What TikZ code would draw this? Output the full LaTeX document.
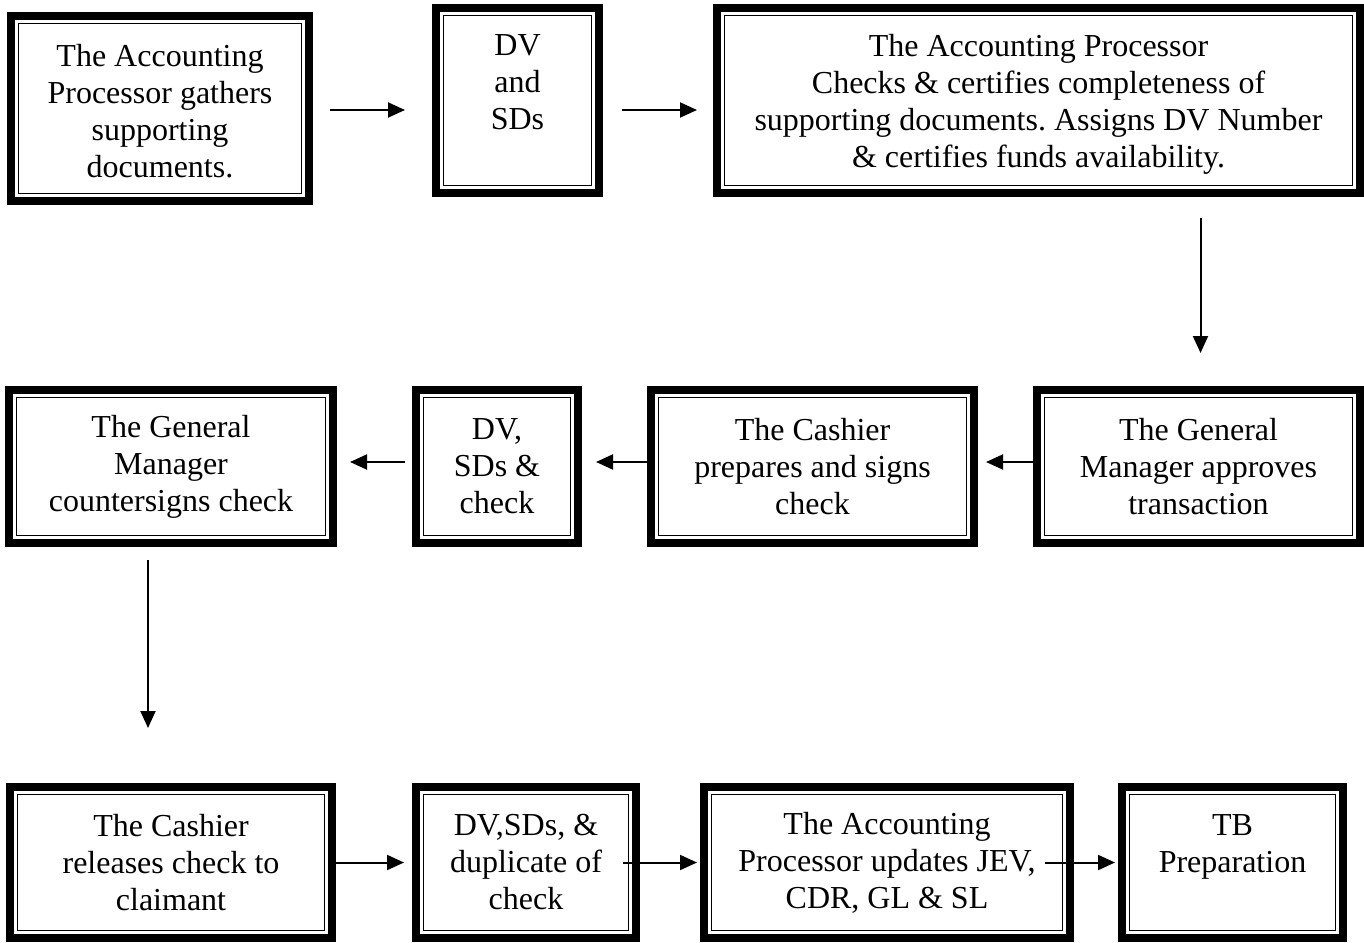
\documentclass[tikz,border=0pt]{standalone}
\usepackage{fontspec}
\setmainfont{Liberation Serif}
\usetikzlibrary{arrows.meta}
\frenchspacing
\tikzset{
  x=1pt, y=-1pt,
  fbox/.style={draw=black, line width=8.5pt, outer sep=0pt, inner sep=0pt,
    align=center, font=\fontsize{32pt}{37pt}\selectfont},
  innerline/.style={draw=black, line width=1.8pt},
  arr/.style={line width=2pt, -{Triangle[length=17pt,width=15pt]}}
}
\begin{document}
\begin{tikzpicture}
\useasboundingbox (0,0) rectangle (1364,942);
% row 1
\node[fbox, minimum width=298pt, minimum height=185pt] (A) at (160,108.5)
  {\rule{0pt}{28pt}The Accounting\\Processor gathers\\supporting\\documents.};
\node[fbox, minimum width=163pt, minimum height=185pt] (B) at (517.5,100.5)
  {DV\\and\\SDs\\\mbox{}};
\node[fbox, minimum width=643pt, minimum height=185pt] (C) at (1038.5,100.5)
  {\rule{0pt}{30pt}The Accounting Processor\\Checks \& certifies completeness of\\supporting documents. Assigns DV Number\\\& certifies funds availability.};
% row 2
\node[fbox, minimum width=323pt, minimum height=153pt] (D) at (1198.5,466.5)
  {The General\\Manager approves\\transaction};
\node[fbox, minimum width=323pt, minimum height=153pt] (E) at (812.5,466.5)
  {The Cashier\\prepares and signs\\check};
\node[fbox, minimum width=162pt, minimum height=153pt] (F) at (497,466.5)
  {DV,\\SDs \&\\check};
\node[fbox, minimum width=324pt, minimum height=153pt] (G) at (171,466.5)
  {The General\\Manager\\countersigns check};
% row 3
\node[fbox, minimum width=322pt, minimum height=151pt] (H) at (171,862.5)
  {The Cashier\\releases check to\\claimant};
\node[fbox, minimum width=220pt, minimum height=151pt] (I) at (526,862.5)
  {DV,SDs, \&\\duplicate of\\check};
\node[fbox, minimum width=366pt, minimum height=151pt] (J) at (887,862.5)
  {The Accounting\\Processor updates JEV,\\CDR, GL \& SL};
\node[fbox, minimum width=221pt, minimum height=151pt] (K) at (1232.5,862.5)
  {TB\\Preparation\\\mbox{}};
% inner thin borders
\foreach \n in {A,B,C,D,E,F,G,H,I,J,K}
  \draw[innerline] ([shift={(7.5pt,-7.5pt)}]\n.north west) rectangle ([shift={(-7.5pt,7.5pt)}]\n.south east);
% connectors
\draw[arr, shorten <=21pt, shorten >=31pt] ([yshift=-1.5pt]A.east) -- ([yshift=-1.5pt]A.east -| B.west);
\draw[arr, shorten <=23pt, shorten >=20pt] ([yshift=-9.5pt]B.east) -- ([yshift=-9.5pt]B.east -| C.west);
\draw[arr, shorten <=25pt, shorten >=37pt] ([xshift=2pt]C.south -| D.north) -- ([xshift=2pt]D.north);
\draw[arr, shorten >=12pt] ([yshift=4.5pt]D.west) -- ([yshift=4.5pt]D.west -| E.east);
\draw[arr, shorten >=18pt] ([yshift=4.5pt]E.west) -- ([yshift=4.5pt]E.west -| F.east);
\draw[arr, shorten <=11pt, shorten >=17pt] ([yshift=4.5pt]F.west) -- ([yshift=4.5pt]F.west -| G.east);
\draw[arr, shorten <=17pt, shorten >=59pt] ([xshift=-23pt]G.south) -- ([xshift=-23pt]H.north);
\draw[arr, shorten >=12pt] (H.east) -- (H.east -| I.west);
\draw[arr, shorten >=7pt] ([xshift=-13pt]I.east) -- (I.east -| J.west);
\draw[arr, shorten >=7pt] ([xshift=-25pt]J.east) -- (J.east -| K.west);
\end{tikzpicture}
\end{document}
